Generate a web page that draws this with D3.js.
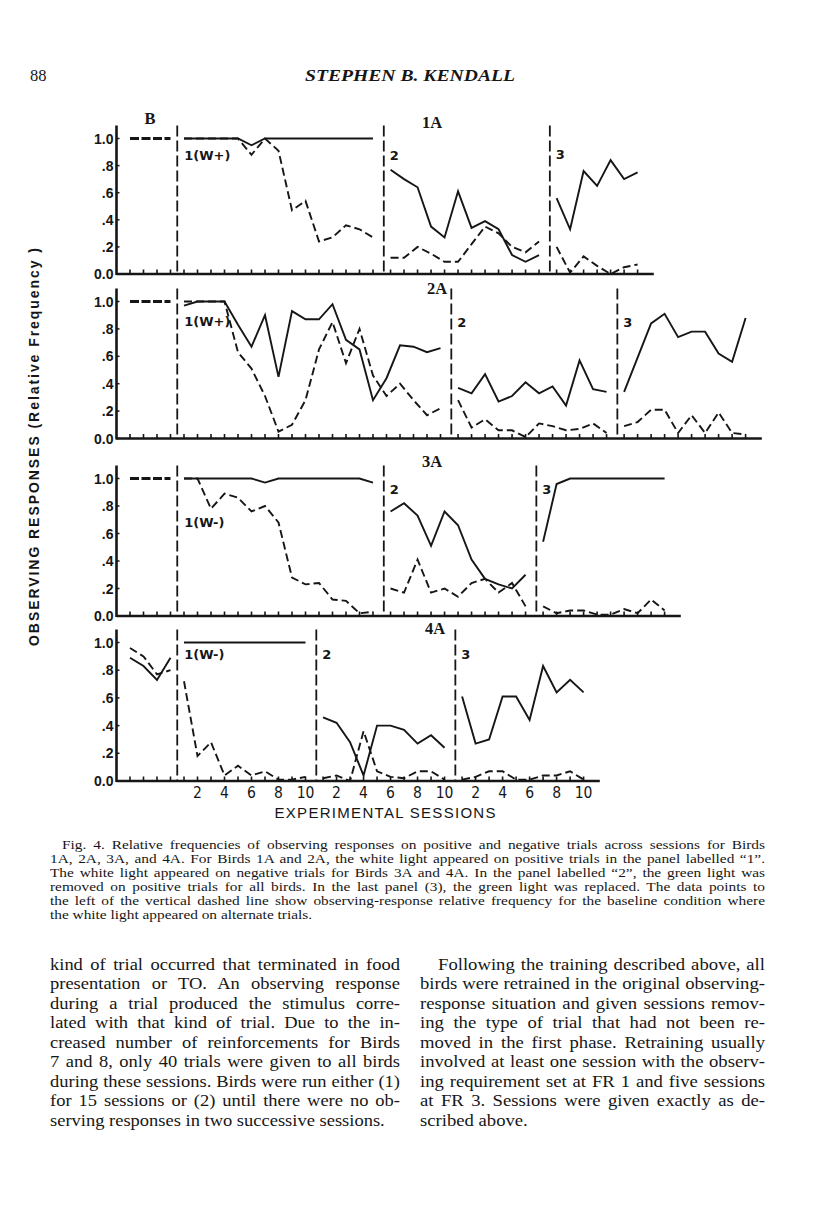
<!DOCTYPE html>
<html><head><meta charset="utf-8">
<script src="https://cdn.jsdelivr.net/npm/d3@7/dist/d3.min.js"></script>
<style>
html,body{margin:0;padding:0;background:#fff;}
svg{display:block;}
</style></head>
<body>
<script>
// ---------------- DATA ----------------
const birds = ["1A", "2A", "3A", "4A"];
const phaseLabels1A = ["1(W+)", "2", "3"];
const phaseLabels2A = ["1(W+)", "2", "3"];
const phaseLabels3A = ["1(W-)", "2", "3"];
const phaseLabels4A = ["1(W-)", "2", "3"];
const yTickLabels = ["0.0", ".2", ".4", ".6", ".8", "1.0"];
const yTickValues = [0, 0.2, 0.4, 0.6, 0.8, 1.0];
const sessionTickLabels = ["2", "4", "6", "8", "10"];

// each series: [baseline, phase 1, phase 2, phase 3]  (solid = positive trials, dashed = negative trials)
const solid1A = [
  [1, 1, 1, 1],
  [1, 1, 1, 1, 1, .95, 1, 1, 1, 1, 1, 1, 1, 1, 1],
  [.77, .70, .64, .35, .27, .61, .34, .39, .33, .14, .09, .14],
  [.56, .33, .76, .65, .84, .70, .75]
];
const dashed1A = [
  [1, 1, 1, 1],
  [1, 1, 1, 1, 1, .88, 1, .91, .47, .54, .24, .27, .36, .33, .27],
  [.12, .12, .20, .15, .09, .09, .22, .35, .30, .20, .16, .24],
  [.20, .01, .13, .06, .00, .05, .07]
];
const solid2A = [
  [1, 1, 1, 1],
  [.97, 1, 1, 1, .83, .67, .90, .45, .93, .87, .87, .98, .72, .65, .28, .44, .68, .67, .63, .66],
  [.37, .33, .47, .27, .31, .41, .33, .38, .24, .57, .36, .34],
  [.34, .59, .84, .91, .74, .78, .78, .62, .56, .88]
];
const dashed2A = [
  [1, 1, 1, 1],
  [1, 1, 1, 1, .63, .51, .31, .05, .10, .28, .65, .85, .55, .80, .46, .31, .40, .28, .17, .22],
  [.28, .08, .14, .06, .06, .01, .11, .09, .06, .07, .11, .04],
  [.09, .12, .21, .21, .04, .17, .04, .19, .04, .03]
];
const solid3A = [
  [1, 1, 1, 1],
  [1, 1, 1, 1, 1, 1, .97, 1, 1, 1, 1, 1, 1, 1, .97],
  [.76, .82, .73, .51, .76, .66, .41, .27, .23, .20, .30],
  [.54, .96, 1, 1, 1, 1, 1, 1, 1, 1]
];
const dashed3A = [
  [1, 1, 1, 1],
  [1, 1, .78, .89, .86, .76, .80, .68, .28, .23, .24, .12, .11, .02, .03],
  [.20, .17, .41, .17, .20, .14, .24, .27, .17, .24, .07],
  [.07, .02, .04, .04, .01, .01, .05, .02, .12, .04]
];
const solid4A = [
  [.89, .83, .73, .89],
  [1, 1, 1, 1, 1, 1, 1, 1, 1, 1],
  [.46, .42, .28, .04, .40, .40, .37, .27, .33, .24],
  [.61, .27, .30, .61, .61, .44, .83, .64, .73, .64]
];
const dashed4A = [
  [.96, .90, .77, .80],
  [.72, .18, .28, .04, .11, .04, .07, .01, .01, .03],
  [.02, .04, .00, .36, .07, .03, .02, .07, .07, .01],
  [.01, .03, .07, .07, .01, .01, .04, .04, .07, .01]
];

const captionLines = [
  "Fig. 4. Relative frequencies of observing responses on positive and negative trials across sessions for Birds",
  "1A, 2A, 3A, and 4A. For Birds 1A and 2A, the white light appeared on positive trials in the panel labelled \u201C1\u201D.",
  "The white light appeared on negative trials for Birds 3A and 4A. In the panel labelled \u201C2\u201D, the green light was",
  "removed on positive trials for all birds. In the last panel (3), the green light was replaced. The data points to",
  "the left of the vertical dashed line show observing-response relative frequency for the baseline condition where",
  "the white light appeared on alternate trials."
];
const leftColumn = [
  "kind of trial occurred that terminated in food",
  "presentation or TO. An observing response",
  "during a trial produced the stimulus corre-",
  "lated with that kind of trial. Due to the in-",
  "creased number of reinforcements for Birds",
  "7 and 8, only 40 trials were given to all birds",
  "during these sessions. Birds were run either (1)",
  "for 15 sessions or (2) until there were no ob-",
  "serving responses in two successive sessions."
];
const rightColumn = [
  "Following the training described above, all",
  "birds were retrained in the original observing-",
  "response situation and given sessions remov-",
  "ing the type of trial that had not been re-",
  "moved in the first phase. Retraining usually",
  "involved at least one session with the observ-",
  "ing requirement set at FR 1 and five sessions",
  "at FR 3. Sessions were given exactly as de-",
  "scribed above."
];

// ---------------- LAYOUT ----------------
const W = 816, H = 1207;
const INK = "#161616";
const svg = d3.select("body").append("svg").attr("width", W).attr("height", H)
  .attr("viewBox", `0 0 ${W} ${H}`);
svg.append("rect").attr("width", W).attr("height", H).attr("fill", "#fff");

const SERIF = "'Liberation Serif','Times New Roman',serif";
const SANS = "'Liberation Sans',Arial,sans-serif";
const HEAVY = "'DejaVu Sans','Liberation Sans',sans-serif";
const NARROW = "'Liberation Sans Narrow','DejaVu Sans Condensed','Liberation Sans',sans-serif";

// session slot scale (shared horizontally)
const x = d3.scaleLinear().domain([0, 1]).range([130, 143.5]);
const PHASE_GAP = 1.3;

const panelLayout = [
  { top: 138.5, bottom: 274, title: [432, 122], labelY: [155, 155, 154] },
  { top: 301.5, bottom: 438.5, title: [437, 288], labelY: [321, 322, 322] },
  { top: 478.5, bottom: 616, title: [432, 461], labelY: [522, 489, 489] },
  { top: 642.5, bottom: 781, title: [435, 628], labelY: [654, 654, 654] }
];
const solids = [solid1A, solid2A, solid3A, solid4A];
const dasheds = [dashed1A, dashed2A, dashed3A, dashed4A];
const phaseLabelSets = [phaseLabels1A, phaseLabels2A, phaseLabels3A, phaseLabels4A];

birds.forEach((bird, bi) => {
  const L = panelLayout[bi];
  const y = d3.scaleLinear().domain([0, 1]).range([L.bottom, L.top]);
  const g = svg.append("g");
  const sol = solids[bi], das = dasheds[bi];

  const starts = [];
  let s = 0;
  sol.forEach((ph, pi) => {
    if (pi === 0) s = 0;
    else if (pi === 1) s = starts[0] + sol[0].length;
    else s = starts[pi - 1] + sol[pi - 1].length - 1 + PHASE_GAP;
    starts.push(s);
  });
  const lastSlot = starts[3] + sol[3].length - 1;
  const axisEnd = lastSlot + 1.2;

  g.append("line").attr("x1", x(-1)).attr("x2", x(axisEnd))
    .attr("y1", y(0)).attr("y2", y(0)).attr("stroke", INK).attr("stroke-width", 2.6);
  g.append("line").attr("x1", x(-1)).attr("x2", x(-1))
    .attr("y1", y(1) - 13).attr("y2", y(0) + 1).attr("stroke", INK).attr("stroke-width", 2.6);

  yTickValues.forEach((v, i) => {
    g.append("text").attr("x", x(-1) - 3).attr("y", y(v)).attr("dy", "0.36em")
      .attr("text-anchor", "end").attr("font-family", SANS).attr("font-weight", "bold")
      .attr("font-size", 14).attr("fill", INK).text(yTickLabels[i]);
    g.append("line").attr("x1", x(-1)).attr("x2", x(-1) + 3).attr("y1", y(v)).attr("y2", y(v))
      .attr("stroke", INK).attr("stroke-width", 1.5);
  });

  sol.forEach((ph, pi) => {
    ph.forEach((_, i) => {
      const xx = x(starts[pi] + i);
      g.append("line").attr("x1", xx).attr("x2", xx).attr("y1", y(0)).attr("y2", y(0) - 4.5)
        .attr("stroke", INK).attr("stroke-width", 1.6);
    });
  });

  for (let pi = 1; pi < 4; pi++) {
    const xx = x(starts[pi] - 0.5);
    g.append("line").attr("x1", xx).attr("x2", xx).attr("y1", y(1) - 13).attr("y2", y(0))
      .attr("stroke", INK).attr("stroke-width", 1.8).attr("stroke-dasharray", "11,4");
  }

  const line = d3.line().x(d => x(d[0])).y(d => y(d[1]));
  sol.forEach((ph, pi) => {
    const sameAsDashed = ph.every((v, i) => v === das[pi][i]);
    const sPts = ph.map((v, i) => [starts[pi] + i, v]);
    const dPts = das[pi].map((v, i) => [starts[pi] + i, v]);
    if (pi === 0 && sameAsDashed) {
      g.append("path").attr("d", line(dPts)).attr("fill", "none").attr("stroke", INK)
        .attr("stroke-width", 3.2).attr("stroke-dasharray", "9,2.5");
      return;
    }
    g.append("path").attr("d", line(sPts)).attr("fill", "none").attr("stroke", INK)
      .attr("stroke-width", 1.9).attr("stroke-linejoin", "miter");
    g.append("path").attr("d", line(dPts)).attr("fill", "none").attr("stroke", INK)
      .attr("stroke-width", 1.9).attr("stroke-dasharray", "8,4");
  });

  phaseLabelSets[bi].forEach((lab, i) => {
    g.append("text").attr("x", x(starts[i + 1] - 0.5) + (i === 0 ? 7 : 6)).attr("y", L.labelY[i]).attr("dy", "0.36em")
      .attr("font-family", HEAVY).attr("font-weight", "bold").attr("font-size", 13)
      .attr("fill", INK).text(lab);
  });

  g.append("text").attr("x", L.title[0]).attr("y", L.title[1]).attr("dy", "0.36em")
    .attr("text-anchor", "middle").attr("font-family", SERIF).attr("font-weight", "bold")
    .attr("font-size", 16.5).attr("fill", INK).text(bird);
  if (bi === 0) {
    g.append("text").attr("x", 150).attr("y", 118).attr("dy", "0.36em")
      .attr("text-anchor", "middle").attr("font-family", SERIF).attr("font-weight", "bold")
      .attr("font-size", 16.5).attr("fill", INK).text("B");
  }

  if (bi === 3) {
    for (let pi = 1; pi < 4; pi++) {
      sessionTickLabels.forEach((lab, k) => {
        g.append("text").attr("x", x(starts[pi] + 1 + 2 * k)).attr("y", 792).attr("dy", "0.36em")
          .attr("text-anchor", "middle").attr("font-family", NARROW)
          .attr("font-size", 15.5).attr("fill", INK).text(lab);
      });
    }
  }
});

// axis titles
svg.append("text").attr("x", 385).attr("y", 813).attr("dy", "0.36em").attr("text-anchor", "middle")
  .attr("font-family", SANS).attr("font-size", 15).attr("fill", INK)
  .attr("textLength", 221).attr("lengthAdjust", "spacing").text("EXPERIMENTAL   SESSIONS");
svg.append("text").attr("transform", "translate(34,447) rotate(-90)").attr("dy", "0.36em")
  .attr("text-anchor", "middle").attr("font-family", SANS).attr("font-weight", "bold")
  .attr("font-size", 14).attr("fill", INK)
  .attr("textLength", 398).attr("lengthAdjust", "spacing")
  .text("OBSERVING   RESPONSES (Relative  Frequency )");

// header
svg.append("text").attr("x", 30).attr("y", 81).attr("font-family", SERIF).attr("font-size", 16.5)
  .attr("fill", INK).text("88");
svg.append("text").attr("x", 305).attr("y", 81).attr("font-family", SERIF).attr("font-style", "italic")
  .attr("font-weight", "bold").attr("font-size", 16.5).attr("fill", INK)
  .attr("textLength", 210).attr("lengthAdjust", "spacingAndGlyphs")
  .text("STEPHEN B. KENDALL");

// text block helper: lines share a horizontal stretch, justified by word spacing
function textBlock(lines, starts, x1, y0, dy, size) {
  const tmp = svg.append("text").attr("font-family", SERIF).attr("font-size", size);
  const ratios = lines.slice(0, -1).map((ln, i) => {
    tmp.text(ln);
    return (x1 - starts[i]) / tmp.node().getComputedTextLength();
  });
  tmp.remove();
  const sx = Math.min(1.2, d3.min(ratios) * 0.995);
  lines.forEach((ln, i) => {
    const g = svg.append("g").attr("transform", `translate(${starts[i]},${y0 + i * dy}) scale(${sx},1)`);
    const t = g.append("text").attr("x", 0).attr("y", 0).attr("font-family", SERIF)
      .attr("font-size", size).attr("fill", INK).text(ln);
    if (i < lines.length - 1) {
      const natural = t.node().getComputedTextLength();
      const spaces = (ln.match(/ /g) || []).length;
      if (spaces > 0) t.attr("word-spacing", ((x1 - starts[i]) / sx - natural) / spaces);
    }
  });
}
textBlock(captionLines, captionLines.map((_, i) => i === 0 ? 62 : 50), 765, 849, 13.9, 12.8);
textBlock(leftColumn, leftColumn.map(() => 50), 400, 970, 19.45, 16.5);
textBlock(rightColumn, rightColumn.map((_, i) => i === 0 ? 438 : 420), 765, 970, 19.45, 16.5);
</script>
</body></html>
